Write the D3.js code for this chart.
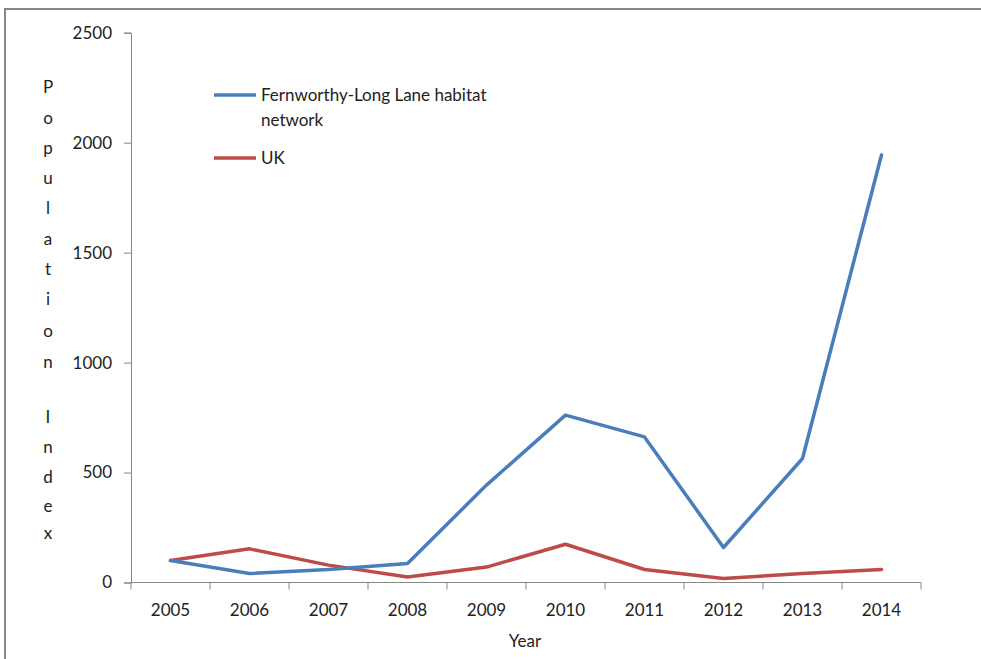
<!DOCTYPE html>
<html>
<head>
<meta charset="utf-8">
<script src="https://cdn.jsdelivr.net/npm/d3@7"></script>
<style>
  body { margin: 0; background: #fff; }
  svg { display: block; font-family: Lato, "Open Sans", sans-serif; }
</style>
</head>
<body>
<div id="chart"></div>
<script>
const years = ["2005", "2006", "2007", "2008", "2009", "2010", "2011", "2012", "2013", "2014"];
const fernworthy = [100, 41, 59, 86, 443, 761, 662, 159, 564, 1944];
const uk = [100, 153, 79, 25, 70, 174, 59, 18, 41, 59];
const yTicks = [0, 500, 1000, 1500, 2000, 2500];
const seriesNames = ["Fernworthy-Long Lane habitat network", "UK"];

const width = 981, height = 659;
const fontSize = 17;
const svg = d3.select("#chart").append("svg")
    .attr("width", width).attr("height", height);

// outer frame
svg.append("rect")
    .attr("x", 5).attr("y", 9).attr("width", 1000).attr("height", 700)
    .attr("fill", "none").attr("stroke", "#868686").attr("stroke-width", 2);

const x = d3.scaleBand().domain(years).range([131, 921]);
const y = d3.scaleLinear().domain([0, 2500]).range([582.5, 32.7]);

const axisColor = "#868686";

// y axis
const yAxis = svg.append("g")
    .attr("transform", "translate(131,0)")
    .call(d3.axisLeft(y).tickValues(yTicks).tickSize(7).tickPadding(12).tickFormat(d3.format("d")));
yAxis.select(".domain").attr("stroke", axisColor);
yAxis.selectAll(".tick line").attr("stroke", axisColor);
yAxis.selectAll("text").attr("font-size", fontSize).attr("fill", "#222").attr("font-family", "Lato, sans-serif");

// x axis
const xAxis = svg.append("g")
    .attr("transform", "translate(0,582.5)")
    .call(d3.axisBottom(x).tickSize(0).tickPadding(21));
xAxis.select(".domain").attr("stroke", axisColor).attr("d", "M131,0H921");
xAxis.selectAll("text").attr("font-size", fontSize).attr("fill", "#222").attr("font-family", "Lato, sans-serif");
// ticks at band edges
const edges = years.map(d => x(d)).concat([x.range()[1]]);
xAxis.selectAll(".edge").data(edges).enter().append("line")
    .attr("x1", d => d).attr("x2", d => d).attr("y1", 0).attr("y2", 7)
    .attr("stroke", axisColor);

// lines
const line = d3.line()
    .x((d, i) => x(years[i]) + x.bandwidth() / 2)
    .y(d => y(d));

svg.append("path").datum(uk)
    .attr("d", line).attr("fill", "none")
    .attr("stroke", "#be4b48").attr("stroke-width", 3.5)
    .attr("stroke-linejoin", "round").attr("stroke-linecap", "round");
svg.append("path").datum(fernworthy)
    .attr("d", line).attr("fill", "none")
    .attr("stroke", "#4a7ebb").attr("stroke-width", 3.5)
    .attr("stroke-linejoin", "round").attr("stroke-linecap", "round");

// legend
const legend = svg.append("g");
legend.append("line").attr("x1", 214).attr("x2", 256).attr("y1", 95).attr("y2", 95)
    .attr("stroke", "#4a7ebb").attr("stroke-width", 3.5);
legend.append("text").attr("x", 261).attr("y", 101).attr("font-size", fontSize).attr("fill", "#222")
    .text("Fernworthy-Long Lane habitat");
legend.append("text").attr("x", 261).attr("y", 126).attr("font-size", fontSize).attr("fill", "#222")
    .text("network");
legend.append("line").attr("x1", 214).attr("x2", 256).attr("y1", 158).attr("y2", 158)
    .attr("stroke", "#be4b48").attr("stroke-width", 3.5);
legend.append("text").attr("x", 261).attr("y", 164).attr("font-size", fontSize).attr("fill", "#222")
    .text(seriesNames[1]);

// axis titles
svg.append("text").attr("x", 525).attr("y", 647).attr("text-anchor", "middle")
    .attr("font-size", fontSize).attr("fill", "#222").text("Year");

const yLabel = "Population Index".split("");
const letterY = [93, 124, 154, 184, 214, 245, 275, 305, 337, 368, null, 423, 453, 483, 512, 539];
svg.append("g").selectAll("text")
    .data(yLabel.map((c, i) => ({ c, y: letterY[i] })).filter(d => d.c !== " "))
    .enter().append("text")
    .attr("x", 48).attr("y", d => d.y).attr("text-anchor", "middle")
    .attr("font-size", fontSize).attr("fill", "#222").text(d => d.c);
</script>
</body>
</html>
